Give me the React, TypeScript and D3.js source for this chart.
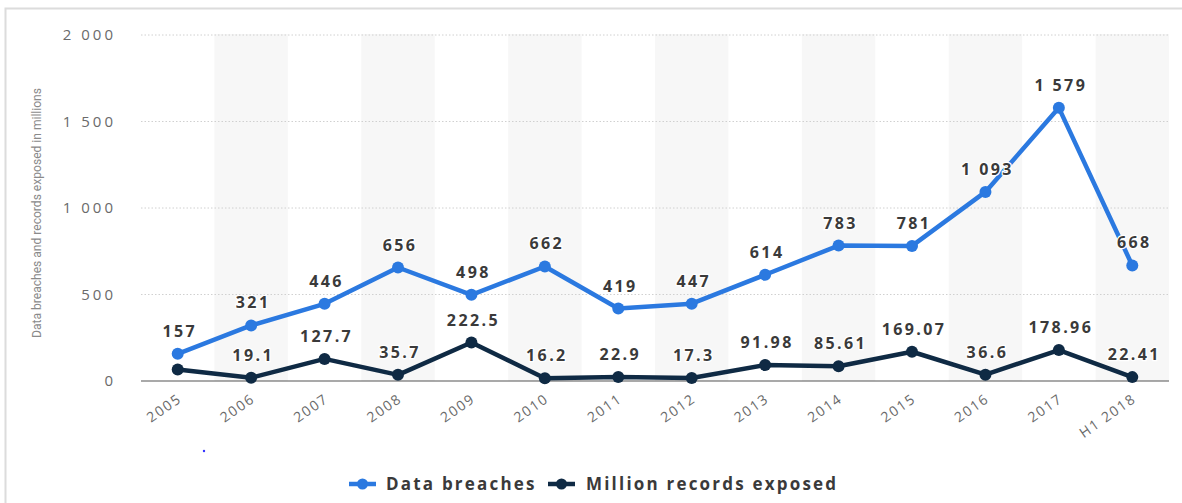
import React from "react";
import * as d3 from "d3";

const categories = ["2005","2006","2007","2008","2009","2010","2011","2012","2013","2014","2015","2016","2017","H1 2018"];
const breaches = [157, 321, 446, 656, 498, 662, 419, 447, 614, 783, 781, 1093, 1579, 668];
const records = [66.9, 19.1, 127.7, 35.7, 222.5, 16.2, 22.9, 17.3, 91.98, 85.61, 169.07, 36.6, 178.96, 22.41];
const recordLabels = ["", "19.1", "127.7", "35.7", "222.5", "16.2", "22.9", "17.3", "91.98", "85.61", "169.07", "36.6", "178.96", "22.41"];
const yTicks = [0, 500, 1000, 1500, 2000];
const yTitle = "Data breaches and records exposed in millions";
const seriesNames = ["Data breaches", "Million records exposed"];

const W = 1182, H = 503;
const BLUE = "#2b79e0";
const DARK = "#0f2a44";

const fmt = (v: number) => {
  const s = String(v);
  const [i, f] = s.split(".");
  const ii = i.replace(/\B(?=(\d{3})+(?!\d))/g, " ");
  return f ? ii + "." + f : ii;
};

export default function App() {
  const x = d3.scaleBand<string>().domain(categories).range([141, 1169]).padding(0);
  const y = d3.scaleLinear().domain([0, 2000]).range([381, 35]);
  const cx = (c: string) => (x(c) as number) + x.bandwidth() / 2;
  const line = d3.line<number>().x((_, i) => cx(categories[i])).y((d) => y(d));

  const labelStyle = {
    fontFamily: "'Open Sans', sans-serif",
    fontWeight: 700,
    fontSize: 16,
    letterSpacing: 2.4,
    fill: "#3a3a3a",
    stroke: "#fff",
    strokeWidth: 2.5,
    paintOrder: "stroke" as const,
  };

  return (
    <svg width={W} height={H} style={{ position: "absolute", left: 0, top: 0, background: "#fff" }}>
      {/* frame */}
      <path d={`M5.5,${H + 5} V8.5 H${W + 5}`} fill="none" stroke="#dcdcdc" strokeWidth={2} />
      <circle cx={204} cy={451} r={1.2} fill="#3333ff" />
      {/* alternating bands */}
      {categories.map((c, i) =>
        i % 2 === 1 ? (
          <rect key={c} x={x(c)} y={y(2000) - 1} width={x.bandwidth()} height={y(0) - y(2000) + 1} fill="#f7f7f7" />
        ) : null
      )}
      {/* gridlines */}
      {yTicks.filter((t) => t > 0).map((t) => (
        <line key={t} x1={141} x2={1169} y1={y(t)} y2={y(t)} stroke="#d0d0d0" strokeWidth={1} strokeDasharray="1.5,2" />
      ))}
      <line x1={141} x2={1169} y1={y(0)} y2={y(0)} stroke="#555" strokeWidth={1.2} />
      {/* y tick labels */}
      {yTicks.map((t) => (
        <text key={t} x={116} y={y(t)} dy="0.35em" textAnchor="end" fontFamily="'Open Sans', sans-serif" fontSize={15} letterSpacing={3} fill="#6a6a6a">
          {fmt(t)}
        </text>
      ))}
      <text transform={`translate(41,213) rotate(-90)`} textAnchor="middle" fontFamily="Roboto, sans-serif" fontSize={12.5} fill="#8a8a8a" textLength={250} lengthAdjust="spacingAndGlyphs">
        {yTitle}
      </text>
      {/* x labels */}
      {categories.map((c) => (
        <text key={c} transform={`translate(${cx(c) + 2},397) rotate(-35)`} textAnchor="end" dy="0.35em" fontFamily="'Open Sans', sans-serif" fontSize={14} letterSpacing={1.6} fill="#6a6a6a">
          {c}
        </text>
      ))}
      {/* lines */}
      <path d={line(records) || ""} fill="none" stroke={DARK} strokeWidth={4.5} strokeLinejoin="round" />
      <path d={line(breaches) || ""} fill="none" stroke={BLUE} strokeWidth={4.5} strokeLinejoin="round" />
      {records.map((v, i) => (
        <circle key={"r" + i} cx={cx(categories[i])} cy={y(v)} r={6} fill={DARK} />
      ))}
      {breaches.map((v, i) => (
        <circle key={"b" + i} cx={cx(categories[i])} cy={y(v)} r={6} fill={BLUE} />
      ))}
      {/* data labels */}
      {breaches.map((v, i) => (
        <text key={"lb" + i} x={cx(categories[i]) + 2} y={y(v) - 17} textAnchor="middle" {...labelStyle}>
          {fmt(v)}
        </text>
      ))}
      {records.map((v, i) =>
        recordLabels[i] ? (
          <text key={"lr" + i} x={cx(categories[i]) + 2} y={y(v) - 17} textAnchor="middle" {...labelStyle}>
            {recordLabels[i]}
          </text>
        ) : null
      )}
      {/* legend */}
      {[{ name: seriesNames[0], color: BLUE, x0: 349, tx: 386 }, { name: seriesNames[1], color: DARK, x0: 548, tx: 586 }].map((l) => (
        <g key={l.name}>
          <line x1={l.x0} x2={l.x0 + 27} y1={484} y2={484} stroke={l.color} strokeWidth={4.5} />
          <circle cx={l.x0 + 13.5} cy={484} r={5.5} fill={l.color} />
          <text x={l.tx} y={484} dy="0.35em" fontFamily="'Open Sans', sans-serif" fontWeight="bold" fontSize={17} letterSpacing={2.2} fill="#3a3a3a">
            {l.name}
          </text>
        </g>
      ))}
    </svg>
  );
}
